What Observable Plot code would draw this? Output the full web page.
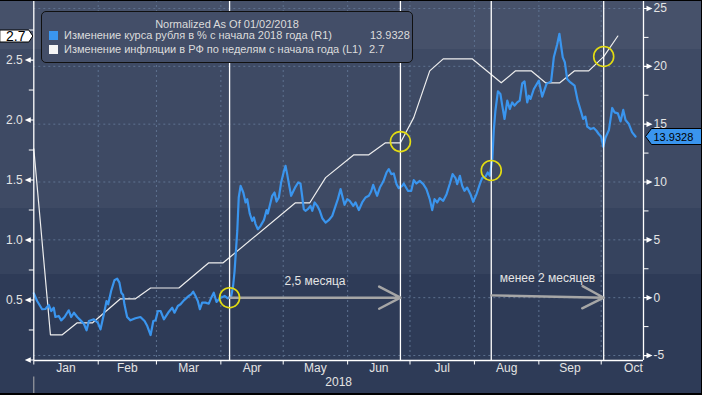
<!DOCTYPE html>
<html>
<head>
<meta charset="utf-8">
<script src="https://cdn.jsdelivr.net/npm/d3@7"></script>
<script src="https://cdn.jsdelivr.net/npm/@observablehq/plot@0.6"></script>
<style>
html,body{margin:0;padding:0;background:#2e3b57;}
#wrap{position:relative;width:702px;height:395px;overflow:hidden;
  background:linear-gradient(to bottom,#46516a 0px,#46516a 49px,#3e4a64 49px,#3e4a64 208px,#36435e 208px,#36435e 274px,#2e3b57 274px,#2e3b57 395px);
  font-family:"Liberation Sans",Arial,sans-serif;}
#wrap svg{position:absolute;left:0;top:0;}
.legend{position:absolute;left:41px;top:11px;width:370px;height:50px;border:1px solid #101010;border-radius:5px;background:#434e68;color:#dcdcdc;font-size:11px;line-height:13px;}
.legend div{position:absolute;white-space:nowrap;}
.sq{width:9px;height:9px;}
.edge{position:absolute;background:#000;}
</style>
</head>
<body>
<div id="wrap"></div>
<script>
// ---------- data ----------
const rubDays = [0,1.6,4.0,5.6,7.2,8.4,9.6,10.4,12.0,13.2,14.8,16.8,18.0,19.3,20.9,22.5,24.1,25.4,26.5,28.9,30.8,32.1,33.7,35.0,35.8,37.2,38.8,40.1,41.2,42.1,43.0,43.6,44.9,46.5,48.9,51.3,53.3,54.6,56.2,57.5,58.6,59.7,61.0,62.6,65.0,66.6,67.7,69.3,70.6,72.2,74.6,75.7,76.7,77.8,78.9,79.9,81.0,82.6,84.2,85.4,86.6,87.9,89.5,91.8,93.3,95.0,95.9,96.6,97.9,98.6,99.5,100.8,101.9,102.7,103.9,105.1,105.9,106.7,107.8,109.1,110.7,112.0,112.6,114.7,115.8,116.8,117.9,119.0,120.3,121.1,121.9,123.0,123.8,124.8,125.9,127.2,128.3,129.1,129.9,130.7,131.8,133.1,134.0,135.1,136.4,137.6,138.8,140.4,141.9,143.6,145.2,146.3,147.6,148.4,149.5,150.8,152.0,153.7,154.8,156.4,158.0,159.6,161.2,162.3,163.3,164.4,165.2,166.5,167.6,168.4,169.7,170.8,172.0,173.2,174.5,175.6,177.3,178.0,180.0,181.6,182.8,184.1,185.7,187.4,188.9,190.5,191.7,192.8,194.1,195.3,197.0,198.6,200.2,201.5,202.9,203.7,205.0,206.1,207.2,208.5,210.1,211.4,213.0,214.6,215.7,217.3,218.4,219.4,220.6,221.3,222.1,223.3,224.5,225.4,226.5,227.8,229.0,230.2,231.3,232.6,233.8,235.0,236.1,237.4,238.2,239.0,240.6,243.0,244.6,246.7,248.9,250.2,251.8,252.9,253.8,254.5,255.5,256.6,258.2,260.2,261.7,263.4,264.3,265.4,266.3,267.9,269.4,270.7,271.8,273.0,274.0,275.1,276.7,278.3,279.4,281.0,282.3,283.6,284.7,286.3,287.9,289.5];
const rubValues = [0.38,-0.29,-1.00,-0.98,-0.63,-1.15,-0.87,-1.67,-1.58,-1.96,-1.67,-1.09,-1.67,-1.30,-1.67,-1.96,-2.25,-2.82,-2.02,-1.87,-2.16,-2.74,-1.44,-0.29,-0.57,0.58,1.51,1.65,1.30,0.43,0.23,-0.57,-1.67,-1.96,-1.78,-1.67,-2.02,-2.45,-3.23,-2.02,-1.96,-1.15,-1.15,-1.87,-1.21,-0.87,-1.30,-0.72,-0.57,-0.23,0.15,0.29,0.52,0.15,-0.29,-1.00,-0.43,-0.43,-0.52,0.00,0.43,-0.37,-0.05,0.15,-0.05,0.15,1.01,2.30,5.77,8.66,9.67,9.09,8.23,8.52,7.27,6.64,6.93,6.36,5.92,6.21,6.70,7.57,7.27,8.81,9.09,8.31,8.66,9.96,10.91,11.40,10.68,9.58,8.81,9.18,9.58,9.96,9.87,8.81,7.65,7.51,7.65,7.94,7.51,8.23,7.94,7.51,6.87,6.49,6.70,7.07,7.94,8.52,9.39,8.81,8.03,8.52,8.37,7.94,8.23,7.57,8.23,8.66,8.81,9.18,9.76,9.18,8.81,9.52,9.87,10.16,10.82,11.12,10.68,10.74,9.82,9.47,9.67,9.87,9.24,9.24,10.16,9.87,10.10,9.82,9.39,8.52,7.57,8.52,8.23,8.61,8.37,8.95,9.87,10.68,10.34,9.82,10.54,9.67,9.24,9.52,8.95,8.29,8.95,9.82,10.34,10.45,10.82,10.54,11.98,14.43,16.16,17.84,17.61,16.60,15.45,17.03,16.31,16.88,16.60,16.88,17.03,18.53,18.70,16.88,17.46,17.18,18.04,18.76,17.38,18.48,18.70,20.78,21.88,22.81,21.65,20.78,20.35,18.91,18.61,18.33,17.03,16.02,15.45,15.65,14.78,14.58,14.67,14.43,14.15,13.91,13.05,13.85,14.49,16.40,16.02,15.93,15.24,16.23,15.36,15.01,14.29,13.93];

const inflDays = [0,8.0,13.7,20.9,28.3,41.7,48.9,56.2,69.8,84.2,91.1,125.9,132.8,140.4,154.0,161.2,169.2,176.4,182.8,190.5,197.0,210.9,224.9,231.8,239.3,246.2,253.1,260.2,267.0,274.3,281.0];
const inflValues = [1.76,0.21,0.21,0.31,0.31,0.51,0.51,0.60,0.60,0.81,0.81,1.31,1.31,1.52,1.71,1.71,1.81,1.81,2.02,2.41,2.51,2.51,2.31,2.41,2.41,2.31,2.31,2.41,2.41,2.53,2.70];

const eventDays = [94.2, 176.4, 220.1, 274.2];
const circleValues = [0, 1.82, 11.0, 2.53];
const circleAxis = ["R", "L", "R", "L"];

const arrowStartDays = [94.2, 220.1];
const arrowEndDays = [176.4, 274.2];
const arrowStartValues = [0, 0.2];
const arrowEndValues = [0, 0];
const arrowLabels = ["2,5 месяца", "менее 2 месяцев"];
const arrowLabelValues = [1.45, 1.68];

const monthNames = ["Jan","Feb","Mar","Apr","May","Jun","Jul","Aug","Sep","Oct"];
const yearLabel = ["2018"];
const rightMajor = [-5, 0, 5, 10, 15, 20, 25];
const rightMinor = [-2.5, 2.5, 7.5, 12.5, 17.5, 22.5];
const leftMajor = [0, 0.5, 1.0, 1.5, 2.0, 2.5];
const leftMinor = [0.25, 0.75, 1.25, 1.75, 2.25, 2.75];
const leftLabels = [0.5, 1.0, 1.5, 2.0, 2.5];

const rubLast = 13.9328;
const inflLast = 2.7;
const legendTitle = "Normalized As Of 01/02/2018";
const legendNames = ["Изменение курса рубля в % с начала 2018 года (R1)", "Изменение инфляции в РФ по неделям с начала года (L1)"];

if (rubDays.length !== rubValues.length) throw new Error("rub mismatch " + rubDays.length + " vs " + rubValues.length);
if (inflDays.length !== inflValues.length) throw new Error("infl mismatch");

// ---------- helpers ----------
const DAY = 864e5, T0 = Date.UTC(2018, 0, 1);
const dt = d => new Date(T0 + d * DAY);
const xStart = dt(0), xEnd = dt(293.35);
const yDomain = [-5.43, 25.69];
// left (L1) axis aligned to right (R1) axis
const L2R = d3.scaleLinear().domain([0.0371, 2.9296]).range([-5, 25]);

const rub = rubDays.map((d, i) => ({date: dt(d), v: rubValues[i]}));
const infl = inflDays.map((d, i) => ({date: dt(d), v: L2R(inflValues[i])}));
const events = eventDays.map(dt);
const circles = eventDays.map((d, i) => ({date: dt(d), v: circleAxis[i] === "L" ? L2R(circleValues[i]) : circleValues[i]}));
const arrows = arrowStartDays.map((d, i) => ({
  x1: dt(d), x2: dt(arrowEndDays[i]), y1: arrowStartValues[i], y2: arrowEndValues[i],
  mid: dt((d + arrowEndDays[i]) / 2), label: arrowLabels[i], ly: arrowLabelValues[i]
}));
const monthStarts = d3.utcMonths(new Date(Date.UTC(2018, 0, 1)), new Date(Date.UTC(2018, 10, 1)));
const months = monthStarts.map((m, i) => ({name: monthNames[i], mid: new Date((+m + +d3.utcMonth.offset(m, 1)) / 2)}));

const triR = {draw(c){c.moveTo(0,-0.6);c.lineTo(3,-0.6);c.lineTo(3,-2.8);c.lineTo(9,0);c.lineTo(3,2.8);c.lineTo(3,0.6);c.lineTo(0,0.6);c.closePath();}};
const triL = {draw(c){c.moveTo(0,-0.6);c.lineTo(-3,-0.6);c.lineTo(-3,-2.8);c.lineTo(-9,0);c.lineTo(-3,2.8);c.lineTo(-3,0.6);c.lineTo(0,0.6);c.closePath();}};
const minR = {draw(c){c.moveTo(0,0);c.lineTo(5,0);}};
const minL = {draw(c){c.moveTo(0,0);c.lineTo(-5,0);}};
const vTick = {draw(c){c.moveTo(0,0);c.lineTo(0,4);}};
const vSep = {draw(c){c.moveTo(0,0);c.lineTo(0,20);}};
const tagL = {draw(c){c.moveTo(-1,0);c.lineTo(-5,-6);c.lineTo(-34,-6);c.lineTo(-34,6);c.lineTo(-5,6);c.closePath();}};
const tagR = {draw(c){c.moveTo(2,0);c.lineTo(8,-8);c.lineTo(60,-8);c.lineTo(60,8);c.lineTo(8,8);c.closePath();}};

const TXT = "#e4e4e4", GRID = "#5e7290";

const chart = Plot.plot({
  width: 702, height: 395,
  marginLeft: 33.3, marginRight: 59, marginTop: 0, marginBottom: 35,
  style: {background: "transparent", fontFamily: "'Liberation Sans', Arial, sans-serif", fontSize: "12px", color: TXT, overflow: "visible"},
  x: {type: "utc", domain: [xStart, xEnd], axis: null},
  y: {domain: yDomain, axis: null},
  marks: [
    Plot.ruleY(rightMajor, {stroke: GRID, strokeDasharray: "2,3", strokeWidth: 1}),
    Plot.ruleX(monthStarts.slice(1), {stroke: GRID, strokeDasharray: "2,3", strokeWidth: 1}),
    Plot.line(infl, {x: "date", y: "v", stroke: "#eeeeee", strokeWidth: 1.2}),
    Plot.line(rub, {x: "date", y: "v", stroke: "#3a95ee", strokeWidth: 2.2}),
    Plot.ruleX(events, {stroke: "#ffffff", strokeWidth: 1.3}),
    Plot.ruleX([xStart, xEnd], {stroke: "#ffffff", strokeWidth: 1.3}),
    Plot.ruleY([yDomain[0]], {stroke: "#ffffff", strokeWidth: 1.5}),
    Plot.arrow(arrows, {x1: "x1", y1: "y1", x2: "x2", y2: "y2", stroke: "#a6a6a6", strokeWidth: 2.4, headLength: 15, headAngle: 55}),
    Plot.text(arrows, {x: "mid", y: "ly", text: "label", fill: TXT, fontSize: 12}),
    Plot.dot(circles, {x: "date", y: "v", r: 10, stroke: "#e3dc12", strokeWidth: 1.6, fill: "none"}),
    // right axis
    Plot.dot(rightMajor, {x: () => xEnd, y: d => d, symbol: triR, fill: "#ffffff", stroke: "none"}),
    Plot.dot(rightMinor, {x: () => xEnd, y: d => d, symbol: minR, fill: "none", stroke: "#ffffff", strokeWidth: 1}),
    Plot.text(rightMajor, {x: () => xEnd, y: d => d, text: d => String(d), dx: 10, textAnchor: "start", fill: TXT, fontSize: 12}),
    // left axis
    Plot.dot(leftMajor, {x: () => xStart, y: d => L2R(d), symbol: triL, fill: "#ffffff", stroke: "none"}),
    Plot.dot(leftMinor, {x: () => xStart, y: d => L2R(d), symbol: minL, fill: "none", stroke: "#ffffff", strokeWidth: 1}),
    Plot.text(leftLabels, {x: () => xStart, y: d => L2R(d), text: d => d.toFixed(1), dx: -11, textAnchor: "end", fill: TXT, fontSize: 12}),
    // x axis
    Plot.dot(monthStarts, {x: d => d, frameAnchor: "bottom", symbol: vTick, fill: "none", stroke: "#ffffff", strokeWidth: 1}),
    Plot.text(months, {x: "mid", frameAnchor: "bottom", dy: 11, text: "name", fill: TXT, fontSize: 12}),
    Plot.text(yearLabel, {x: () => new Date((+xStart + +xEnd) / 2), frameAnchor: "bottom", dy: 25, text: d => d, fill: TXT, fontSize: 12}),
    Plot.dot([xStart], {x: d => d, frameAnchor: "bottom", dy: 16, symbol: vSep, fill: "none", stroke: "#b0b0b0", strokeWidth: 1}),
    // last-value tags
    Plot.dot([inflLast], {x: () => xStart, y: d => L2R(d), symbol: tagL, fill: "#ffffff", stroke: "#000000", strokeWidth: 1}),
    Plot.text([inflLast], {x: () => xStart, y: d => L2R(d), text: d => d.toFixed(1), dx: -18, fill: "#000000", fontSize: 14}),
    Plot.dot([rubLast], {x: () => xEnd, y: d => d, symbol: tagR, fill: "#3a95ee", stroke: "#000000", strokeWidth: 1}),
    Plot.text([rubLast], {x: () => xEnd, y: d => d, text: d => d.toFixed(4), dx: 10, dy: 1, textAnchor: "start", fill: "#000000", fontSize: 11})
  ]
});

const wrap = document.getElementById("wrap");
wrap.appendChild(chart);

// legend box
const lg = document.createElement("div");
lg.className = "legend";
lg.innerHTML =
  `<div style="left:0;width:370px;top:6px;text-align:center;">${legendTitle}</div>` +
  `<div class="sq" style="left:7px;top:19px;background:#3a95ee;"></div>` +
  `<div style="left:22px;top:17px;">${legendNames[0]}</div>` +
  `<div style="left:328px;top:17px;">${rubLast}</div>` +
  `<div class="sq" style="left:7px;top:33px;background:#f5f5f5;"></div>` +
  `<div style="left:22px;top:31px;">${legendNames[1]}</div>` +
  `<div style="left:327px;top:31px;">${inflLast}</div>`;
wrap.appendChild(lg);

// thin black frame edges
[["left:0;top:0;width:702px;height:1px"],["left:0;bottom:0;width:702px;height:2px"],["right:0;top:0;width:1px;height:395px"]].forEach(([s]) => {
  const e = document.createElement("div"); e.className = "edge"; e.style.cssText = s; wrap.appendChild(e);
});
</script>
</body>
</html>
